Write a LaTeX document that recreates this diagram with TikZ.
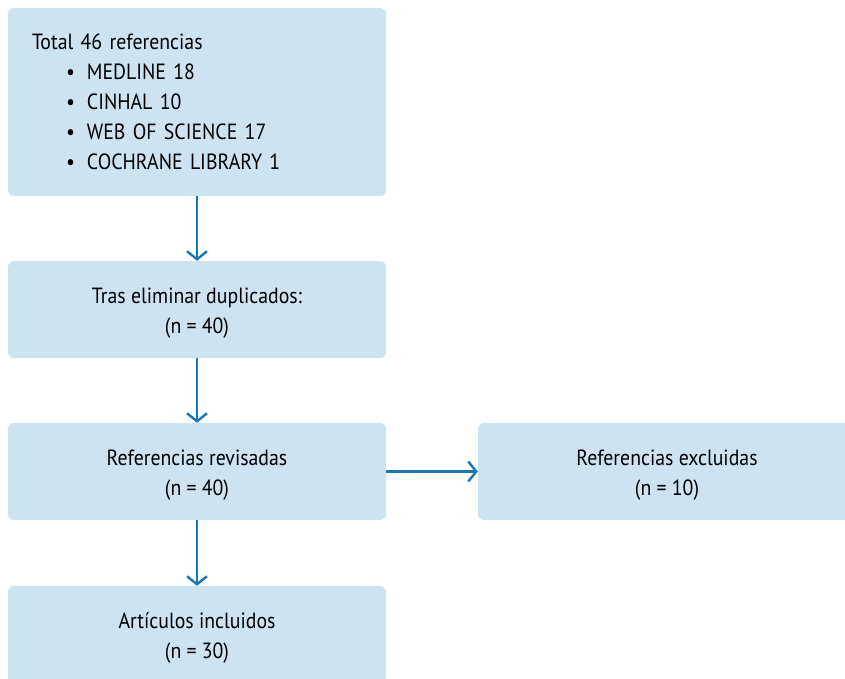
\documentclass[tikz,border=0pt]{standalone}
\usepackage{fontspec}
\setmainfont{PT Sans}[FakeStretch=0.9]
\usetikzlibrary{arrows.meta}

\definecolor{boxblue}{RGB}{205,227,239}
\definecolor{arrowblue}{RGB}{22,120,180}

\newcommand{\padtop}{\rule{0pt}{23pt}}

\tikzset{
  box/.style={fill=boxblue, rounded corners=6pt, minimum width=378pt,
    minimum height=97pt, inner sep=0pt, align=center,
    font=\fontsize{22}{30}\selectfont},
  flow/.style={draw=arrowblue, line width=2.6pt,
    -{Straight Barb[length=8pt, width=20pt, line width=2.4pt]}}
}

\begin{document}
\begin{tikzpicture}[x=1pt, y=-1pt]

% --- Page frame (845 x 679) ---
\useasboundingbox (0,0) rectangle (845,679);
\clip (0,0) rectangle (845,679);

% --- Boxes ---
\node[box, minimum height=188pt, align=left, text width=330pt] (total) at (197,102)
  {Total 46 referencias\\
   \hspace*{34pt}\textbullet\hspace{12pt}MEDLINE 18\\
   \hspace*{34pt}\textbullet\hspace{12pt}CINHAL 10\\
   \hspace*{34pt}\textbullet\hspace{12pt}WEB OF SCIENCE 17\\
   \hspace*{34pt}\textbullet\hspace{12pt}COCHRANE LIBRARY 1};
\node[box] (dupl) at (197,309.5) {\padtop Tras eliminar duplicados:\\(n = 40)};
\node[box] (revis) at (197,471.5) {\padtop Referencias revisadas\\(n = 40)};
\node[box] (exclu) at (667,471.5) {\padtop Referencias excluidas\\(n = 10)};
\node[box] (inclu) at (197,634.5) {\padtop Artículos incluidos\\(n = 30)};

% --- Arrows ---
\draw[flow] (total) -- (dupl);
\draw[flow] (dupl) -- (revis);
\draw[flow] (revis) -- (exclu);
\draw[flow] (revis) -- (inclu);

\end{tikzpicture}
\end{document}
